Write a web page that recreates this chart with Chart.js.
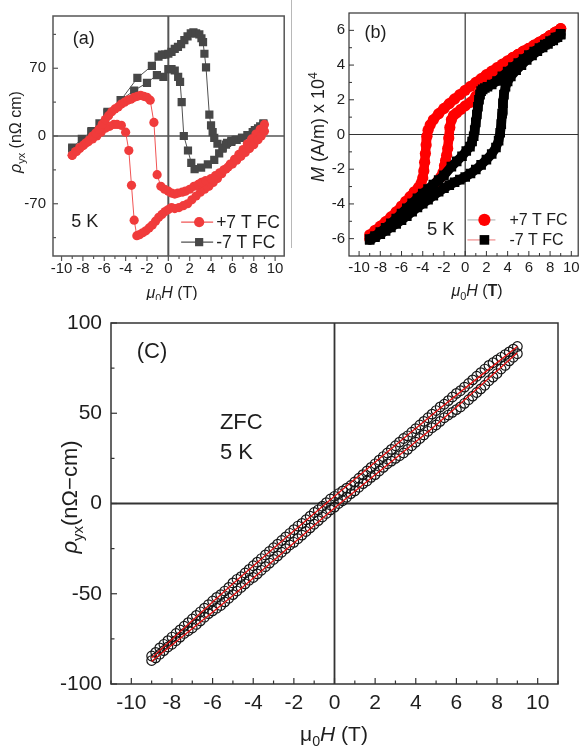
<!DOCTYPE html>
<html>
<head>
<meta charset="utf-8">
<script src="https://cdn.jsdelivr.net/npm/chart.js@4.4.1/dist/chart.umd.min.js"></script>
<style>
  html, body { margin: 0; padding: 0; background: #fff; }
  #wrap { position: relative; width: 585px; height: 747px; overflow: hidden; background: #fff; }
  canvas { position: absolute; }
</style>
</head>
<body>
<div id="wrap">
  <canvas id="panelA" width="290" height="300" style="left:0px;top:0px"></canvas>
  <canvas id="panelB" width="295" height="300" style="left:290px;top:0px"></canvas>
  <canvas id="panelC" width="585" height="447" style="left:0px;top:300px"></canvas>
</div>
<script>
// ---------- (a) Hall resistivity after field cooling, 5 K ----------
// +7 T FC, field swept up from -9 T
const fieldA_plusUp = [-9.0,-8.6,-8.3,-8.0,-7.7,-7.4,-7.1,-6.8,-6.5,-6.2,-5.9,-5.6,-5.3,-5.0,-4.7,-4.4,-4.1,-3.8,-3.5,-3.2,-2.9,-2.6,-2.3,-2.0,-1.7,-1.35,-1.05,-0.7,-0.35,0.0,0.3,0.6,0.9,1.3,1.6,2.0,2.4,2.8,3.1,3.5,4.0,4.4,4.8,5.2,5.6,6.0,6.4,6.8,7.2,7.6,8.0,8.4,8.7,9.0];
const rhoA_plusUp   = [-20,-16,-13,-10,-7,-4,0,3,7,12,17,21,25,28,30,33,35,37,38,40,41,42,41,40,37,14,-40,-52,-55,-57,-59,-60,-59,-58,-57,-55,-52,-50,-48,-46,-44,-41,-38,-35,-32,-29,-25,-21,-17,-13,-9,-4,0,5];
// +7 T FC, field swept down from +9 T
const fieldA_plusDown = [9.0,8.6,8.2,7.8,7.4,7.0,6.6,6.2,5.8,5.4,5.0,4.6,4.2,3.8,3.4,3.0,2.6,2.2,1.8,1.4,1.0,0.6,0.3,0.0,-0.3,-0.6,-0.9,-1.2,-1.5,-1.8,-2.1,-2.4,-2.7,-2.95,-3.2,-3.45,-3.7,-4.0,-4.4,-4.8,-5.1,-5.5,-5.9,-6.3,-6.7,-7.1,-7.5,-7.9,-8.3,-8.7,-9.0];
const rhoA_plusDown   = [12,7,2,-3,-8,-14,-19,-24,-29,-34,-39,-44,-48,-52,-55,-58,-62,-66,-70,-72,-74,-75,-74,-76,-78,-81,-84,-88,-92,-95,-98,-100,-102,-103,-87,-51,-15,4,11,12,12,10,8,4,0,-3,-6,-9,-12,-16,-20];
// -7 T FC, field swept up from -9 T
const fieldA_minusUp = [-9.0,-8.1,-7.2,-6.45,-5.7,-4.45,-2.9,-1.54,-0.92,-0.6,-0.3,0.0,0.3,0.6,0.9,1.2,1.5,1.8,2.1,2.35,2.6,2.9,3.1,3.25,3.38,3.53,3.84,4.0,4.15,4.3,4.6,5.07,5.5,5.9,6.3,6.9,7.5,8.1,8.6,8.9];
const rhoA_minusUp   = [-12,-3,5,13,25,37,60,72.5,82,84,84,85,87,90,92,95,99,103,106,107,106,105,101,97,85,71,22,11,4,-2,-8,-13,-7,-5,-4,-2,1,6,10,13];
// -7 T FC, field swept down from +9 T
const fieldA_minusDown = [8.9,8.4,7.9,7.4,6.9,6.4,5.9,5.4,5.1,4.76,4.3,3.7,3.07,2.46,2.15,1.84,1.45,1.25,1.1,0.92,0.6,0.3,0.0,-0.46,-1.07,-2.0,-3.2,-4.45,-5.7,-7.2,-9.0];
const rhoA_minusDown   = [12,8,4,1,-2,-4,-6,-9,-12,-18,-24.6,-29.4,-32.7,-34.3,-27.8,-15,0,35,56,61,67.7,69,69,61,63,55,47,37,24,4,-13];
const ticksA_x = [-10,-8,-6,-4,-2,0,2,4,6,8,10];
const minorA_x = [-9,-7,-5,-3,-1,1,3,5,7,9];
const ticksA_y = [-70,0,70];
const minorA_y = [-105,-35,35,105];

// ---------- (b) magnetization loops, 5 K ----------
const fieldB_plusDown = [9.0,8.5,8.0,7.5,7.0,6.5,6.0,5.5,5.0,4.5,4.0,3.5,3.0,2.5,2.0,1.5,1.0,0.5,0.0,-0.5,-1.0,-1.5,-2.0,-2.5,-3.0,-3.3,-3.5,-3.6,-3.68,-3.75,-3.82,-3.9,-4.0,-4.15,-4.4,-4.8,-5.2,-5.6,-6.0,-6.5,-7.0,-7.5,-8.0,-8.5,-9.0];
const magB_plusDown   = [6.1,5.9,5.7,5.5,5.32,5.15,4.97,4.8,4.62,4.45,4.25,4.05,3.85,3.65,3.45,3.22,3.0,2.78,2.55,2.3,2.05,1.78,1.5,1.2,0.85,0.55,0.25,-0.1,-0.6,-1.1,-1.6,-2.1,-2.5,-2.8,-3.05,-3.3,-3.58,-3.85,-4.12,-4.45,-4.75,-5.02,-5.28,-5.52,-5.78];
const fieldB_plusUp = [-9.0,-8.5,-8.0,-7.5,-7.0,-6.5,-6.0,-5.5,-5.0,-4.5,-4.0,-3.5,-3.0,-2.6,-2.3,-2.1,-1.95,-1.85,-1.75,-1.65,-1.55,-1.45,-1.3,-1.1,-0.8,-0.4,0.0,0.5,1.0,1.5,2.0,2.5,3.0,3.5,4.0,4.5,5.0,5.5,6.0,6.5,7.0,7.5,8.0,8.5,9.0];
const magB_plusUp   = [-6.0,-5.82,-5.6,-5.35,-5.1,-4.85,-4.58,-4.3,-4.02,-3.75,-3.48,-3.2,-2.95,-2.7,-2.45,-2.2,-1.8,-1.5,-1.2,-0.8,-0.2,0.4,0.85,1.1,1.25,1.45,1.65,1.85,2.2,2.6,3.0,3.3,3.62,3.92,4.2,4.43,4.62,4.8,4.97,5.15,5.32,5.5,5.7,5.9,6.1];
const fieldB_minusUp = [-9.0,-8.5,-8.0,-7.5,-7.0,-6.5,-6.0,-5.5,-5.0,-4.5,-4.0,-3.5,-3.0,-2.5,-2.0,-1.5,-1.0,-0.5,0.0,0.5,1.0,1.5,2.0,2.5,2.9,3.15,3.3,3.4,3.48,3.56,3.65,3.8,4.0,4.3,4.8,5.3,5.8,6.3,6.8,7.3,7.8,8.3,8.7,9.0];
const magB_minusUp   = [-6.08,-5.92,-5.74,-5.55,-5.35,-5.15,-4.93,-4.7,-4.45,-4.2,-3.98,-3.75,-3.52,-3.3,-3.1,-2.92,-2.75,-2.6,-2.45,-2.25,-2.02,-1.75,-1.45,-1.12,-0.75,-0.35,0.1,0.6,1.2,1.8,2.3,2.75,3.05,3.35,3.7,4.0,4.3,4.55,4.8,5.02,5.22,5.42,5.6,5.75];
const fieldB_minusDown = [9.0,8.5,8.0,7.5,7.0,6.5,6.0,5.5,5.0,4.5,4.0,3.5,3.0,2.5,2.1,1.85,1.65,1.5,1.4,1.3,1.2,1.1,1.0,0.9,0.8,0.65,0.45,0.1,-0.3,-0.8,-1.3,-2.0,-2.5,-3.0,-3.5,-4.0,-4.5,-5.0,-5.5,-6.0,-6.5,-7.0,-7.5,-8.0,-8.5,-9.0];
const magB_minusDown   = [5.8,5.58,5.38,5.18,4.98,4.78,4.57,4.35,4.12,3.88,3.62,3.35,3.08,2.88,2.75,2.68,2.6,2.5,2.3,2.0,1.6,1.15,0.7,0.25,-0.1,-0.4,-0.7,-0.95,-1.25,-1.55,-1.85,-2.35,-2.62,-2.88,-3.14,-3.4,-3.68,-3.96,-4.25,-4.55,-4.85,-5.12,-5.38,-5.62,-5.85,-6.02];
const ticksB_x = [-10,-8,-6,-4,-2,0,2,4,6,8,10];
const minorB_x = [-9,-7,-5,-3,-1,1,3,5,7,9];
const ticksB_y = [-6,-4,-2,0,2,4,6];
const minorB_y = [-5,-3,-1,1,3,5];

// ---------- (c) zero-field-cooled Hall resistivity, 5 K ----------
const fieldC = [-9.0,-8.8,-8.6,-8.4,-8.2,-8.0,-7.8,-7.6,-7.4,-7.2,-7.0,-6.8,-6.6,-6.4,-6.2,-6.0,-5.8,-5.6,-5.4,-5.2,-5.0,-4.8,-4.6,-4.4,-4.2,-4.0,-3.8,-3.6,-3.4,-3.2,-3.0,-2.8,-2.6,-2.4,-2.2,-2.0,-1.8,-1.6,-1.4,-1.2,-1.0,-0.8,-0.6,-0.4,-0.2,0.0,0.2,0.4,0.6,0.8,1.0,1.2,1.4,1.6,1.8,2.0,2.2,2.4,2.6,2.8,3.0,3.2,3.4,3.6,3.8,4.0,4.2,4.4,4.6,4.8,5.0,5.2,5.4,5.6,5.8,6.0,6.2,6.4,6.6,6.8,7.0,7.2,7.4,7.6,7.8,8.0,8.2,8.4,8.6,8.8,9.0];
const rhoC_upper = [-84.5,-82.5,-80,-78,-76,-74,-72,-70,-68,-66,-64,-62,-60,-58,-56,-54,-52,-50.5,-48.5,-46.5,-44,-42,-40.5,-38.5,-36.5,-34.5,-32.5,-30.5,-28.5,-26.5,-24.5,-22.5,-20.5,-18.5,-16.5,-14.5,-12.5,-11,-9,-7,-5,-3.5,-1.5,0.5,2.5,4,5.5,7,8.5,10,12,14,16,18,20,22,24,26,28,30,32,34,36,37.5,39.5,41.5,43.5,45.5,47.5,49.5,51.5,53.5,55,57,59,61,62.5,64.5,66.5,68.5,70.5,72.5,74.5,76.5,78,79.5,81,82.5,84,85.5,87];
const rhoC_lower = [-87,-85.5,-83.5,-81.5,-79.5,-78,-76,-74,-72,-70.5,-69,-67,-65,-63,-61,-59.5,-58,-56.5,-54.5,-52.5,-50.5,-48.5,-46.5,-44.5,-42.5,-41,-39,-37,-35,-33,-31,-29,-27,-25,-23,-21.5,-19.5,-17.5,-15.5,-13.5,-11.5,-9.5,-7.5,-5.5,-3.5,-2,0,1.5,3.5,5.5,7,9,11,12.5,14.5,16,18,20,22,23.5,25,26.5,28,30,32,34,36,38,40,42,43.5,45.5,47.5,49,50.5,52,53.5,55.5,57.5,59.5,61.5,63.5,65.5,68,70,72,74.5,76.5,79,81,83];
const fitC_field = [-9,-5,0,5,9];
const fitC_upper = [-85.5,-44.5,4,51,87];
const fitC_lower = [-87.5,-51,-2.5,43.5,83.5];
const ticksC_x = [-10,-8,-6,-4,-2,0,2,4,6,8,10];
const minorC_x = [-11,-9,-7,-5,-3,-1,1,3,5,7,9,11];
const ticksC_y = [-100,-50,0,50,100];
const minorC_y = [-75,-25,25,75];

// ---------- helpers ----------
const FONT = "'Liberation Sans', Arial, Helvetica, sans-serif";
const TEXT = '#1e1e1e';
const pts = (xs, ys) => xs.map((x, i) => ({ x, y: ys[i] }));

// Draws a short run of text pieces (italic / bold / sub / sup) centred on (cx, cy).
function drawRich(ctx, parts, cx, cy, size, rotate) {
  ctx.save();
  ctx.translate(cx, cy);
  if (rotate) ctx.rotate(-Math.PI / 2);
  ctx.fillStyle = TEXT;
  ctx.textAlign = 'left';
  ctx.textBaseline = 'alphabetic';
  const items = parts.map(([t, st]) => {
    const tags = st.split(' ');
    const small = tags.includes('sub') || tags.includes('sup');
    const s = small ? size * 0.68 : size;
    const f = (tags.includes('i') ? 'italic ' : '') + (tags.includes('b') ? 'bold ' : '') + s + 'px ' + FONT;
    ctx.font = f;
    return { t, tags, f, w: ctx.measureText(t).width };
  });
  const total = items.reduce((a, it) => a + it.w, 0);
  let xx = -total / 2;
  const base = size * 0.36;
  for (const it of items) {
    ctx.font = it.f;
    let dy = base;
    if (it.tags.includes('sub')) dy += size * 0.28;
    if (it.tags.includes('sup')) dy -= size * 0.42;
    ctx.fillText(it.t, xx, dy);
    xx += it.w;
  }
  ctx.restore();
}

function seg(ctx, x1, y1, x2, y2) {
  ctx.beginPath(); ctx.moveTo(x1, y1); ctx.lineTo(x2, y2); ctx.stroke();
}

// Frame, zero lines, tick marks, axis titles, labels and a hand-placed key.
function makeDecor(cfg) {
  return {
    id: 'decor',
    beforeDatasetsDraw(chart) {
      const { ctx, chartArea: a, scales: { x, y } } = chart;
      ctx.save();
      ctx.strokeStyle = cfg.zeroColor;
      ctx.lineWidth = cfg.zeroWidthV;
      const x0 = x.getPixelForValue(0);
      seg(ctx, x0, a.top, x0, a.bottom);
      ctx.lineWidth = cfg.zeroWidthH;
      const y0 = y.getPixelForValue(0);
      seg(ctx, a.left, y0, a.right, y0);
      ctx.restore();
    },
    afterDraw(chart) {
      const { ctx, chartArea: a, scales: { x, y } } = chart;
      ctx.save();
      if (cfg.sideLine) {
        ctx.strokeStyle = '#b8b8b8'; ctx.lineWidth = 1;
        seg(ctx, cfg.sideLine[0], cfg.sideLine[1], cfg.sideLine[0], cfg.sideLine[2]);
      }
      ctx.strokeStyle = cfg.frameColor;
      ctx.lineWidth = cfg.frameWidth;
      ctx.strokeRect(a.left, a.top, a.right - a.left, a.bottom - a.top);
      // tick marks
      const xt = (vals, len) => vals.forEach(v => {
        const p = x.getPixelForValue(v);
        seg(ctx, p, a.bottom, p, cfg.xInward ? a.bottom - len : a.bottom + len);
      });
      const yt = (vals, len) => vals.forEach(v => {
        const p = y.getPixelForValue(v);
        seg(ctx, a.left, p, cfg.yInward ? a.left + len : a.left - len, p);
      });
      ctx.lineWidth = cfg.tickWidth;
      xt(cfg.xMajor, cfg.majorLen); xt(cfg.xMinor, cfg.minorLen);
      yt(cfg.yMajor, cfg.majorLen); yt(cfg.yMinor, cfg.minorLen);
      // axis titles
      drawRich(ctx, cfg.xTitle.parts, cfg.xTitle.at[0], cfg.xTitle.at[1], cfg.xTitle.size, false);
      drawRich(ctx, cfg.yTitle.parts, cfg.yTitle.at[0], cfg.yTitle.at[1], cfg.yTitle.size, true);
      // labels placed in data coordinates
      ctx.fillStyle = TEXT;
      ctx.textBaseline = 'middle';
      for (const n of cfg.notes) {
        ctx.font = n.size + 'px ' + FONT;
        ctx.textAlign = n.align || 'center';
        ctx.fillText(n.text, x.getPixelForValue(n.at[0]), y.getPixelForValue(n.at[1]));
      }
      // key
      if (cfg.key) {
        const k = cfg.key;
        const lx = x.getPixelForValue(k.at[0]);
        const ly0 = y.getPixelForValue(k.at[1]);
        k.items.forEach((it, i) => {
          const ds = chart.data.datasets[it.ds];
          const ly = ly0 + i * k.gap;
          ctx.strokeStyle = it.line; ctx.lineWidth = k.lineWidth;
          seg(ctx, lx, ly, lx + k.len, ly);
          const mx = lx + k.mark;
          ctx.fillStyle = ds.pointBackgroundColor;
          if (ds.pointStyle === 'rect') {
            const s = ds.pointRadius * Math.SQRT2;
            ctx.fillRect(mx - s / 2, ly - s / 2, s, s);
          } else {
            ctx.beginPath(); ctx.arc(mx, ly, ds.pointRadius + 0.5, 0, Math.PI * 2); ctx.fill();
          }
          ctx.fillStyle = TEXT;
          ctx.font = k.size + 'px ' + FONT;
          ctx.textAlign = 'left';
          ctx.textBaseline = 'middle';
          ctx.fillText(it.label, lx + k.textDx, ly + 1);
        });
      }
      ctx.restore();
    }
  };
}

function axis(o) {
  const common = {
    type: 'linear',
    grid: { display: false, drawTicks: false },
    border: { display: false },
  };
  return {
    x: Object.assign({}, common, {
      min: o.xmin, max: o.xmax,
      afterBuildTicks: s => { s.ticks = o.xTicks.map(v => ({ value: v })); },
      afterFit: s => { s.height = o.xH; },
      ticks: { padding: o.xPad, autoSkip: false, maxRotation: 0, minRotation: 0,
               font: { family: FONT, size: o.tickSize }, color: TEXT, callback: v => String(v) }
    }),
    y: Object.assign({}, common, {
      min: o.ymin, max: o.ymax,
      afterBuildTicks: s => { s.ticks = o.yTicks.map(v => ({ value: v })); },
      afterFit: s => { s.width = o.yW; },
      ticks: { padding: o.yPad, autoSkip: false,
               font: { family: FONT, size: o.tickSize }, color: TEXT, callback: v => String(v) }
    })
  };
}

const baseOptions = (pad, scales) => ({
  responsive: false,
  animation: false,
  devicePixelRatio: 1,
  layout: { padding: pad },
  events: [],
  plugins: { legend: { display: false }, tooltip: { enabled: false } },
  scales
});

// ---------- panel (a) ----------
const RED_A = '#f03b3b', GRAY_A = '#474747';
function seriesA(xs, ys, color, lineColor, style, r, order) {
  return {
    data: pts(xs, ys), showLine: true, tension: 0,
    borderColor: lineColor, borderWidth: 1,
    pointStyle: style, pointRadius: r, pointBackgroundColor: color,
    pointBorderColor: color, pointBorderWidth: 0, order
  };
}
new Chart(document.getElementById('panelA'), {
  type: 'scatter',
  data: { datasets: [
    seriesA(fieldA_plusUp, rhoA_plusUp, RED_A, '#f05454', 'circle', 4.6, 1),
    seriesA(fieldA_plusDown, rhoA_plusDown, RED_A, '#f05454', 'circle', 4.6, 2),
    seriesA(fieldA_minusUp, rhoA_minusUp, GRAY_A, '#505050', 'rect', 5.8, 3),
    seriesA(fieldA_minusDown, rhoA_minusDown, GRAY_A, '#505050', 'rect', 5.8, 4)
  ]},
  options: baseOptions({ left: 0, top: 1, right: 2, bottom: 0 }, axis({
    xmin: -10.8, xmax: 10.85, ymin: -124, ymax: 124,
    xTicks: ticksA_x, yTicks: ticksA_y, xH: 44, yW: 53, xPad: 3.5, yPad: 7, tickSize: 15
  })),
  plugins: [makeDecor({
    zeroColor: '#555', zeroWidthV: 2, zeroWidthH: 1.5,
    frameColor: '#555', frameWidth: 1.5, tickWidth: 1.2,
    xInward: false, yInward: true, majorLen: 5, minorLen: 3,
    xMajor: ticksA_x, xMinor: minorA_x, yMajor: ticksA_y, yMinor: minorA_y,
    xTitle: { parts: [['μ', 'i'], ['0', 'sub'], ['H', 'i'], [' (T)', '']], at: [172, 292], size: 16 },
    yTitle: { parts: [['ρ', 'i'], ['yx', 'sub'], [' (nΩ cm)', '']], at: [15, 132], size: 16 },
    notes: [
      { text: '(a)', at: [-7.93, 100], size: 18 },
      { text: '5 K', at: [-7.83, -89], size: 18 }
    ],
    key: { at: [1.2, -89], gap: 20, len: 32, mark: 18, textDx: 35, lineWidth: 1.2, size: 17.5,
      items: [
        { ds: 0, label: '+7 T FC', line: '#f05454' },
        { ds: 2, label: '-7 T FC', line: '#505050' }
      ] }
  })]
});

// ---------- panel (b) ----------
function seriesB(xs, ys, color, style, r, order) {
  return {
    data: pts(xs, ys), showLine: true, tension: 0,
    borderColor: color, borderWidth: 9.5, borderCapStyle: 'round', borderJoinStyle: 'round',
    pointStyle: style, pointRadius: r, pointBackgroundColor: color,
    pointBorderColor: color, pointBorderWidth: 0, order
  };
}
new Chart(document.getElementById('panelB'), {
  type: 'scatter',
  data: { datasets: [
    seriesB(fieldB_plusDown, magB_plusDown, '#ff0000', 'circle', 5.6, 3),
    seriesB(fieldB_plusUp, magB_plusUp, '#ff0000', 'circle', 5.6, 4),
    seriesB(fieldB_minusUp, magB_minusUp, '#000000', 'rect', 6.8, 1),
    seriesB(fieldB_minusDown, magB_minusDown, '#000000', 'rect', 6.8, 2)
  ]},
  options: baseOptions({ left: 0, top: 1, right: 2, bottom: 0 }, axis({
    xmin: -10.95, xmax: 10.65, ymin: -7, ymax: 7,
    xTicks: ticksB_x, yTicks: ticksB_y, xH: 44, yW: 59, xPad: 3, yPad: 4, tickSize: 15
  })),
  plugins: [makeDecor({
    zeroColor: '#333', zeroWidthV: 1.2, zeroWidthH: 1.2,
    frameColor: '#333', frameWidth: 1.2, tickWidth: 1,
    xInward: true, yInward: true, majorLen: 5, minorLen: 3,
    xMajor: ticksB_x, xMinor: minorB_x, yMajor: ticksB_y, yMinor: minorB_y,
    sideLine: [1.5, 0, 248],
    xTitle: { parts: [['μ', 'i'], ['0', 'sub'], ['H', 'i'], [' (', ''], ['T', 'b'], [')', '']], at: [187, 290], size: 16 },
    yTitle: { parts: [['M', 'i'], [' (A/m) x 10', ''], ['4', 'sup']], at: [28, 127], size: 18 },
    notes: [
      { text: '(b)', at: [-8.45, 5.87], size: 18 },
      { text: '5 K', at: [-2.3, -5.47], size: 18.5 }
    ],
    key: { at: [0.21, -4.92], gap: 20, len: 28, mark: 17, textDx: 42, lineWidth: 1.5, size: 16,
      items: [
        { ds: 0, label: '+7 T FC', line: '#c6c6c6' },
        { ds: 2, label: '-7 T FC', line: '#f3a3a3' }
      ] }
  })]
});

// ---------- panel (c) ----------
new Chart(document.getElementById('panelC'), {
  type: 'scatter',
  data: { datasets: [
    { data: pts(fitC_field, fitC_upper), showLine: true, tension: 0.2, borderColor: '#e41010',
      borderWidth: 1.3, pointRadius: 0, order: 1 },
    { data: pts(fitC_field, fitC_lower), showLine: true, tension: 0.2, borderColor: '#e41010',
      borderWidth: 1.3, pointRadius: 0, order: 2 },
    { data: pts(fieldC, rhoC_upper), showLine: false, pointStyle: 'circle', pointRadius: 4.8,
      pointBackgroundColor: 'rgba(255,255,255,0)', pointBorderColor: '#151515', pointBorderWidth: 1.2, order: 3 },
    { data: pts(fieldC, rhoC_lower), showLine: false, pointStyle: 'circle', pointRadius: 4.8,
      pointBackgroundColor: 'rgba(255,255,255,0)', pointBorderColor: '#151515', pointBorderWidth: 1.2, order: 4 }
  ]},
  options: baseOptions({ left: 0, top: 23, right: 27, bottom: 0 }, axis({
    xmin: -11, xmax: 11, ymin: -100, ymax: 100,
    xTicks: ticksC_x, yTicks: ticksC_y, xH: 63, yW: 111, xPad: 6.5, yPad: 9, tickSize: 21
  })),
  plugins: [makeDecor({
    zeroColor: '#333', zeroWidthV: 1.8, zeroWidthH: 1.8,
    frameColor: '#333', frameWidth: 1.5, tickWidth: 1.2,
    xInward: true, yInward: true, majorLen: 6, minorLen: 3.5,
    xMajor: ticksC_x, xMinor: minorC_x, yMajor: ticksC_y, yMinor: minorC_y,
    xTitle: { parts: [['μ', ''], ['0', 'sub'], ['H', 'i'], [' (T)', '']], at: [334, 433], size: 21 },
    yTitle: { parts: [['ρ', 'i'], ['yx', 'sub'], ['(nΩ−cm)', '']], at: [69, 197], size: 22 },
    notes: [
      { text: '(C)', at: [-8.98, 84], size: 22 },
      { text: 'ZFC', at: [-5.64, 44.4], size: 22, align: 'left' },
      { text: '5 K', at: [-5.64, 27.8], size: 22, align: 'left' }
    ]
  })]
});
</script>
</body>
</html>
